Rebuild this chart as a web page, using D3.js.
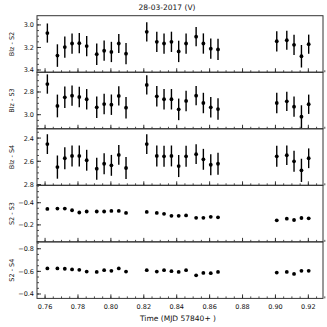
<!DOCTYPE html>
<html>
<head>
<meta charset="utf-8">
<script src="https://cdn.jsdelivr.net/npm/d3@7"></script>
<style>
body { margin: 0; background: #fff; }
svg text { font-family: "DejaVu Sans", sans-serif; fill: #111; }
</style>
</head>
<body>
<svg width="327" height="327"></svg>
<script>
// times (MJD - 57840)
var times = [0.7614, 0.7675, 0.7720, 0.7764, 0.7808, 0.7853, 0.7914, 0.7959, 0.8003, 0.8048, 0.8092,
  0.8218, 0.8279, 0.8323, 0.8368, 0.8412, 0.8457, 0.8518, 0.8562, 0.8607, 0.8651,
  0.9008, 0.9069, 0.9113, 0.9158, 0.9202];

var blzS2 = [3.072, 3.272, 3.197, 3.165, 3.162, 3.188, 3.26, 3.229, 3.24, 3.165, 3.255,
  3.061, 3.15, 3.165, 3.15, 3.235, 3.165, 3.104, 3.165, 3.211, 3.217,
  3.145, 3.136, 3.177, 3.278, 3.171];
var blzS3 = [2.730, 2.923, 2.847, 2.832, 2.844, 2.864, 2.935, 2.906, 2.912, 2.835, 2.938,
  2.738, 2.838, 2.864, 2.864, 2.953, 2.879, 2.832, 2.897, 2.935, 2.95,
  2.897, 2.882, 2.929, 3.017, 2.908];
var blzS4 = [2.452, 2.65, 2.574, 2.554, 2.554, 2.591, 2.664, 2.621, 2.635, 2.545, 2.658,
  2.452, 2.554, 2.557, 2.554, 2.641, 2.557, 2.539, 2.583, 2.63, 2.621,
  2.557, 2.548, 2.6, 2.678, 2.574];
var blzErr = [0.085, 0.1, 0.095, 0.09, 0.09, 0.09, 0.095, 0.09, 0.09, 0.085, 0.095,
  0.085, 0.09, 0.09, 0.09, 0.095, 0.09, 0.085, 0.09, 0.09, 0.095,
  0.09, 0.085, 0.09, 0.1, 0.085];
var s2s3 = [-0.344, -0.347, -0.347, -0.332, -0.312, -0.321, -0.321, -0.321, -0.326, -0.326, -0.308,
  -0.317, -0.308, -0.3, -0.282, -0.282, -0.285, -0.264, -0.264, -0.273, -0.268,
  -0.241, -0.256, -0.244, -0.262, -0.259];
var s2s4 = [-0.626, -0.626, -0.623, -0.617, -0.614, -0.598, -0.595, -0.611, -0.605, -0.626, -0.598,
  -0.611, -0.598, -0.611, -0.602, -0.595, -0.611, -0.565, -0.586, -0.584, -0.595,
  -0.589, -0.595, -0.577, -0.605, -0.605];

var xTicks = [0.76, 0.78, 0.80, 0.82, 0.84, 0.86, 0.88, 0.90, 0.92];

var panels = [
  { label: 'Blz - S2', vals: blzS2, err: blzErr, dom: [2.918, 3.42], ticks: [3.0, 3.2, 3.4] },
  { label: 'Blz - S3', vals: blzS3, err: blzErr, dom: [2.626, 3.124], ticks: [2.8, 3.0] },
  { label: 'Blz - S4', vals: blzS4, err: blzErr, dom: [2.32, 2.807], ticks: [2.4, 2.6, 2.8] },
  { label: 'S2 - S3', vals: s2s3, err: null, dom: [-0.557, -0.047], ticks: [-0.4, -0.2] },
  { label: 'S2 - S4', vals: s2s4, err: null, dom: [-0.861, -0.361], ticks: [-0.8, -0.6, -0.4] }
];

var svg = d3.select('svg');
var mLeft = 37, mRight = 323, mTop = 15.7, mBottom = 298.4;
var ph = (mBottom - mTop) / panels.length;

var x = d3.scaleLinear().domain([0.7551, 0.9289]).range([mLeft, mRight]);
var xMinor = d3.range(0.76, 0.93, 0.005);

svg.append('text').attr('x', 167).attr('y', 10).attr('text-anchor', 'middle')
  .attr('font-size', 7.5).text('28-03-2017  (V)');

panels.forEach(function(p, i) {
  var y0 = mTop + i * ph, y1 = y0 + ph;
  // inverted y: smaller values at top
  var y = d3.scaleLinear().domain(p.dom).range([y0, y1]);
  var g = svg.append('g');

  // x ticks along the bottom, pointing inward
  g.selectAll('.xm').data(xMinor).enter().append('line')
    .attr('x1', function(d) { return x(d); }).attr('x2', function(d) { return x(d); })
    .attr('y1', y1).attr('y2', y1 - 2).attr('stroke', '#222').attr('stroke-width', 0.8);
  g.selectAll('.xM').data(xTicks).enter().append('line')
    .attr('x1', function(d) { return x(d); }).attr('x2', function(d) { return x(d); })
    .attr('y1', y1).attr('y2', y1 - 4).attr('stroke', '#222').attr('stroke-width', 0.9);

  // y ticks
  var yMinor = d3.range(Math.ceil(p.dom[0] / 0.05) * 0.05, p.dom[1], 0.05);
  g.selectAll('.ym').data(yMinor).enter().append('line')
    .attr('x1', mLeft).attr('x2', mLeft + 2)
    .attr('y1', function(d) { return y(d); }).attr('y2', function(d) { return y(d); })
    .attr('stroke', '#222').attr('stroke-width', 0.8);
  g.selectAll('.yM').data(p.ticks).enter().append('line')
    .attr('x1', mLeft).attr('x2', mLeft + 4)
    .attr('y1', function(d) { return y(d); }).attr('y2', function(d) { return y(d); })
    .attr('stroke', '#222').attr('stroke-width', 0.9);
  g.selectAll('.yl').data(p.ticks).enter().append('text')
    .attr('x', mLeft - 3).attr('y', function(d) { return y(d) + 2.5; })
    .attr('text-anchor', 'end').attr('font-size', 6.5)
    .text(function(d) { return d3.format('.1f')(d).replace('-', '\u2212'); });

  // frame
  g.append('rect').attr('x', mLeft).attr('y', y0).attr('width', mRight - mLeft).attr('height', ph)
    .attr('fill', 'none').attr('stroke', '#333').attr('stroke-width', 1);

  // y label
  g.append('text').attr('transform', 'translate(14,' + (y0 + ph / 2) + ') rotate(-90)')
    .attr('text-anchor', 'middle').attr('font-size', 6.5).text(p.label);

  // error bars
  if (p.err) {
    g.selectAll('.eb').data(p.vals).enter().append('line')
      .attr('x1', function(d, j) { return x(times[j]); })
      .attr('x2', function(d, j) { return x(times[j]); })
      .attr('y1', function(d, j) { return y(d - p.err[j]); })
      .attr('y2', function(d, j) { return y(d + p.err[j]); })
      .attr('stroke', '#000').attr('stroke-width', 1.4);
  }
  g.selectAll('.pt').data(p.vals).enter().append('circle')
    .attr('cx', function(d, j) { return x(times[j]); })
    .attr('cy', function(d) { return y(d); })
    .attr('r', 1.9).attr('fill', '#000');
});

// bottom tick labels
svg.selectAll('.xl').data(xTicks).enter().append('text')
  .attr('x', function(d) { return x(d); }).attr('y', 309)
  .attr('text-anchor', 'middle').attr('font-size', 6.5)
  .text(function(d) { return d3.format('.2f')(d); });

svg.append('text').attr('x', 178).attr('y', 321).attr('text-anchor', 'middle')
  .attr('font-size', 7.5).text('Time (MJD 57840+ )');
</script>
</body>
</html>
